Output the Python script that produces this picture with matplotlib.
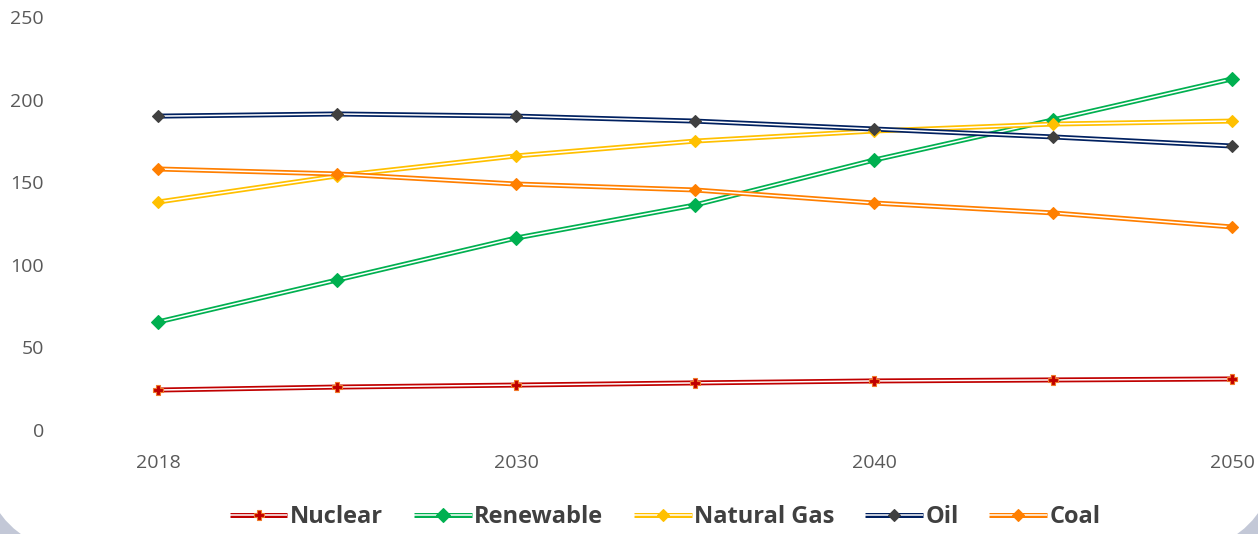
import matplotlib
matplotlib.use("Agg")
import matplotlib.pyplot as plt
import matplotlib.patheffects as pe
from matplotlib.patches import FancyBboxPatch

years = ["2018", "2025", "2030", "2035", "2040", "2045", "2050"]
shown_labels = ["2018", "", "2030", "", "2040", "", "2050"]

nuclear = [24.2, 26.0, 27.2, 28.5, 29.7, 30.3, 30.9]
renewable = [65.4, 90.8, 116.2, 136.2, 163.4, 187.7, 212.5]
natural_gas = [138.0, 153.8, 165.9, 174.9, 181.0, 185.2, 187.0]
oil = [190.0, 191.3, 190.0, 187.0, 182.2, 177.4, 171.9]
coal = [158.0, 155.0, 148.9, 145.3, 137.4, 131.4, 122.9]

series = [
    ("Nuclear", nuclear, "#c00000", "P", "#c00000", "#f07a2a", 7.5),
    ("Renewable", renewable, "#00b050", "D", "#00b050", "#00b050", 7),
    ("Natural Gas", natural_gas, "#ffc000", "D", "#ffc000", "#ffc000", 6.2),
    ("Oil", oil, "#002060", "D", "#404040", "#404040", 6.2),
    ("Coal", coal, "#ff7f00", "D", "#ff7f00", "#ff7f00", 6.2),
]

fig = plt.figure(figsize=(12.58, 5.34), dpi=100)
fig.patch.set_facecolor("#c3c8d7")

# white card with rounded bottom corners on the gray background
W, H = 1258, 534
r, d = 130, 23
bg = FancyBboxPatch((-d + r, -d + r), W + 2 * d - 2 * r, H + 400 - 2 * r,
                    boxstyle="round,pad=%d" % r, transform=None,
                    facecolor="white", edgecolor="none", zorder=-5)
fig.patches.append(bg)

ax = fig.add_axes([158 / W, (H - 430) / H, (1232 - 158) / W, (430 - 17) / H])
ax.set_facecolor("none")
ax.set_zorder(2)

x = list(range(len(years)))
handles = []
for name, vals, col, mk, mfc, mec, ms in series:
    ln, = ax.plot(x, vals, color="white", lw=1.1, solid_capstyle="butt",
                  path_effects=[pe.Stroke(linewidth=3.6, foreground=col), pe.Normal()],
                  clip_on=False, zorder=3)
    mm, = ax.plot(x, vals, ls="none", marker=mk, ms=ms, mfc=mfc, mec=mec,
                  mew=0.8, clip_on=False, zorder=4)
    handles.append((ln, mm))

ax.set_xlim(0, 6)
ax.set_ylim(0, 250)
ax.set_yticks([0, 50, 100, 150, 200, 250])
ax.set_xticks(x)
ax.set_xticklabels(shown_labels)
for s in ax.spines.values():
    s.set_visible(False)
ax.tick_params(axis="both", length=0, labelsize=14, labelcolor="#595959")
ax.tick_params(axis="y", pad=82)
ax.tick_params(axis="x", pad=17)
for lab in ax.get_xticklabels() + ax.get_yticklabels():
    lab.set_fontfamily("Open Sans")

leg = fig.legend(handles, [s[0] for s in series], loc="center",
                 bbox_to_anchor=(665 / W, (H - 517) / H), ncol=5, frameon=False,
                 handlelength=2.45, handletextpad=0.1, columnspacing=1.3,
                 prop={"family": "Open Sans", "weight": "bold", "size": 17})
for t in leg.get_texts():
    t.set_color("#404040")

fig.savefig("out.png", dpi=100, facecolor=fig.get_facecolor())
